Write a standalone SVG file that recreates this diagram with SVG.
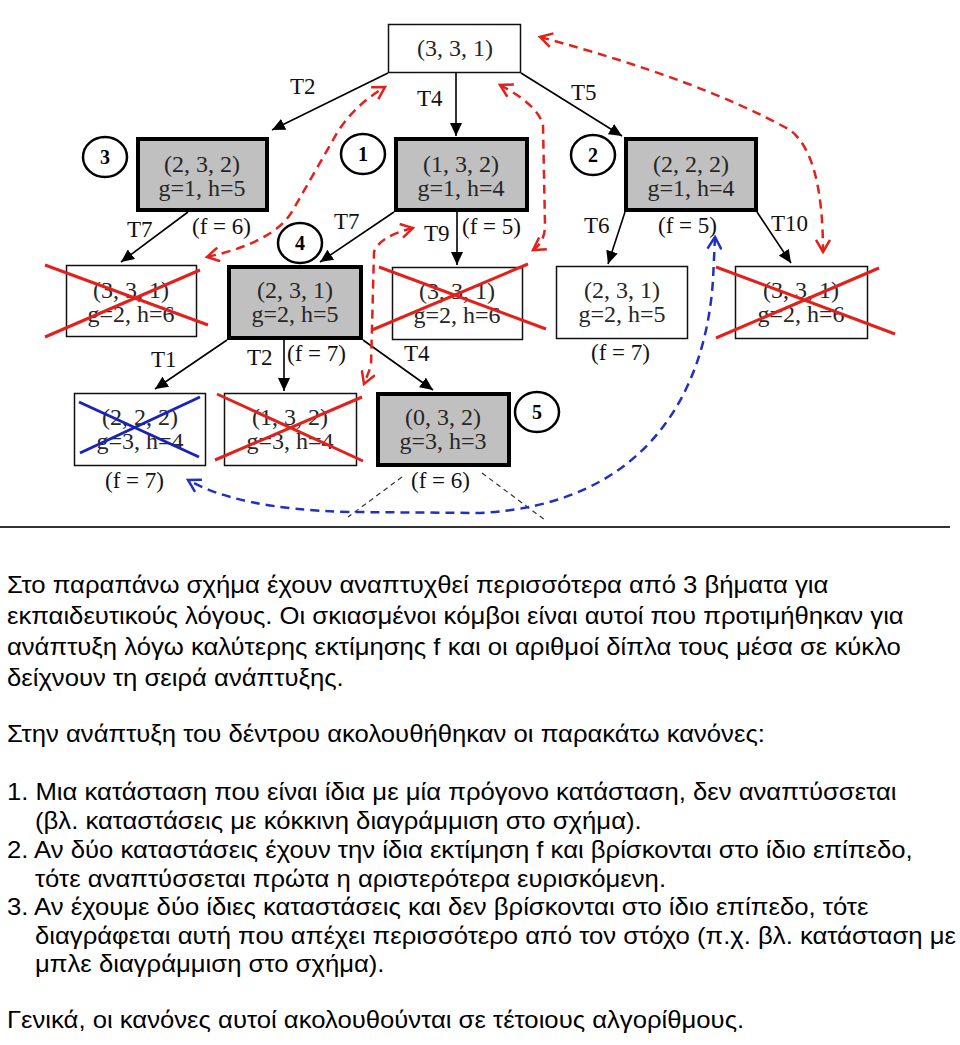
<svg xmlns="http://www.w3.org/2000/svg" width="960" height="1045" viewBox="0 0 960 1045">
<style>
.bg{fill:#ffffff}
.box{fill:#ffffff;stroke:#111;stroke-width:1.5}
.sel{fill:#c0c0c0;stroke:#000;stroke-width:4}
.nt{font-family:"Liberation Serif",serif;font-size:24px;fill:#262626;text-anchor:middle}
.lb{font-family:"Liberation Serif",serif;font-size:23px;fill:#111}
.num{font-family:"Liberation Serif",serif;font-size:20px;font-weight:bold;fill:#000;text-anchor:middle}
.ring{fill:none;stroke:#000;stroke-width:2.5}
.arr{fill:none;stroke:#000;stroke-width:1.6;marker-end:url(#ah)}
.red{fill:none;stroke:#e3211c;stroke-width:2.5;stroke-dasharray:9,6;marker-start:url(#rh);marker-end:url(#rh)}
.blue{fill:none;stroke:#2030c0;stroke-width:2.5;stroke-dasharray:9,6;marker-start:url(#bh);marker-end:url(#bh)}
.thin{fill:none;stroke:#333;stroke-width:1.2;stroke-dasharray:5,4}
.xr{stroke:#e3211c;stroke-width:3}
.xb{stroke:#1a22bb;stroke-width:3}
.tx{font-family:"Liberation Sans",Arial,sans-serif;font-size:24px;fill:#000}
</style>
<defs>
<marker id="ah" markerUnits="userSpaceOnUse" markerWidth="14" markerHeight="12" refX="13" refY="6" orient="auto">
<path d="M0,0 L13,6 L0,12 z" fill="#000"/>
</marker>
<marker id="rh" markerUnits="userSpaceOnUse" markerWidth="16" markerHeight="16" refX="13" refY="8" orient="auto-start-reverse">
<path d="M1,1 L13,8 L1,15" fill="none" stroke="#e3211c" stroke-width="2.5" stroke-dasharray="none"/>
</marker>
<marker id="bh" markerUnits="userSpaceOnUse" markerWidth="16" markerHeight="16" refX="13" refY="8" orient="auto-start-reverse">
<path d="M1,1 L13,8 L1,15" fill="none" stroke="#2030c0" stroke-width="2.5" stroke-dasharray="none"/>
</marker>
</defs>
<rect class="bg" x="0" y="0" width="960" height="1045"/>

<g id="connectors">
<path class="arr" d="M388,73 L272,130"/>
<path class="arr" d="M456,73 L456,136"/>
<path class="arr" d="M521,73 L622,136"/>
<path class="arr" d="M188,212 L121,262"/>
<path class="arr" d="M394,212 L320,262"/>
<path class="arr" d="M457,212 L457,265"/>
<path class="arr" d="M625,212 L608,264"/>
<path class="arr" d="M757,212 L791,263"/>
<path class="arr" d="M227,340 L155,389"/>
<path class="arr" d="M284,340 L284,391"/>
<path class="arr" d="M363,340 L433,390"/>
<path class="thin" d="M402,477 L348,517"/>
<path class="thin" d="M482,473 L545,520"/>
<path class="red" d="M207,257 Q275,242 293,210 L333,140 Q350,108 385,87"/>
<path class="red" d="M500,85 Q538,105 543,125 L545,225 Q545,242 533,250"/>
<path class="red" d="M413,228 Q380,236 374,252 L371,366 L364,384"/>
<path class="red" d="M540,37 Q700,80 790,130 Q823,155 823,252"/>
<path class="blue" d="M715,237 L713,280 C705,400 640,505 480,513 L350,512 C270,510 220,498 188,480"/>
<text class="lb" x="290" y="94">T2</text>
<text class="lb" x="417" y="106">T4</text>
<text class="lb" x="571" y="100">T5</text>
<text class="lb" x="127" y="237">T7</text>
<text class="lb" x="192" y="234">(f = 6)</text>
<text class="lb" x="334" y="229">T7</text>
<text class="lb" x="424" y="241">T9</text>
<text class="lb" x="462" y="234">(f = 5)</text>
<text class="lb" x="584" y="233">T6</text>
<text class="lb" x="658" y="233">(f = 5)</text>
<text class="lb" x="771" y="231">T10</text>
<text class="lb" x="151" y="367">T1</text>
<text class="lb" x="247" y="365">T2</text>
<text class="lb" x="287" y="361">(f = 7)</text>
<text class="lb" x="404" y="361">T4</text>
<text class="lb" x="591" y="360">(f = 7)</text>
<text class="lb" x="105" y="488">(f = 7)</text>
<text class="lb" x="411" y="488">(f = 6)</text>
</g>

<g id="n-root">
<rect class="box" x="388.5" y="24.5" width="132" height="48"/>
<text class="nt" x="455" y="56">(3, 3, 1)</text>
</g>
<g id="n-232">
<rect class="sel" x="138" y="139" width="129" height="71"/>
<text class="nt" x="202" y="172">(2, 3, 2)</text>
<text class="nt" x="202" y="196">g=1, h=5</text>
</g>
<g id="n-132">
<rect class="sel" x="396" y="139" width="131" height="71"/>
<text class="nt" x="461" y="172">(1, 3, 2)</text>
<text class="nt" x="461" y="196">g=1, h=4</text>
</g>
<g id="n-222">
<rect class="sel" x="626" y="139" width="130" height="71"/>
<text class="nt" x="691" y="172">(2, 2, 2)</text>
<text class="nt" x="691" y="196">g=1, h=4</text>
</g>
<g id="n-331a">
<rect class="box" x="66.5" y="265.5" width="130" height="71"/>
<text class="nt" x="131" y="298">(3, 3, 1)</text>
<text class="nt" x="131" y="322">g=2, h=6</text>
<line class="xr" x1="45" y1="265" x2="208" y2="325"/>
<line class="xr" x1="45" y1="337" x2="200" y2="270"/>
</g>
<g id="n-231a">
<rect class="sel" x="229" y="267" width="132" height="71"/>
<text class="nt" x="295" y="298">(2, 3, 1)</text>
<text class="nt" x="295" y="322">g=2, h=5</text>
</g>
<g id="n-331b">
<rect class="box" x="392.5" y="267.5" width="130" height="72"/>
<text class="nt" x="457" y="299">(3, 3, 1)</text>
<text class="nt" x="457" y="323">g=2, h=6</text>
<line class="xr" x1="379" y1="267" x2="546" y2="329"/>
<line class="xr" x1="372" y1="330" x2="528" y2="264"/>
</g>
<g id="n-231b">
<rect class="box" x="556.5" y="266.5" width="131" height="72"/>
<text class="nt" x="622" y="298">(2, 3, 1)</text>
<text class="nt" x="622" y="322">g=2, h=5</text>
</g>
<g id="n-331c">
<rect class="box" x="735.5" y="266.5" width="132" height="72"/>
<text class="nt" x="801" y="298">(3, 3, 1)</text>
<text class="nt" x="801" y="322">g=2, h=6</text>
<line class="xr" x1="716" y1="267" x2="895" y2="334"/>
<line class="xr" x1="716" y1="338" x2="879" y2="268"/>
</g>
<g id="n-222b">
<rect class="box" x="74.5" y="393.5" width="131" height="72"/>
<text class="nt" x="140" y="425">(2, 2, 2)</text>
<text class="nt" x="140" y="449">g=3, h=4</text>
<line class="xb" x1="79" y1="402" x2="199" y2="457"/>
<line class="xb" x1="80" y1="453" x2="200" y2="397"/>
</g>
<g id="n-132b">
<rect class="box" x="224.5" y="393.5" width="132" height="72"/>
<text class="nt" x="290" y="425">(1, 3, 2)</text>
<text class="nt" x="290" y="449">g=3, h=4</text>
<line class="xr" x1="217" y1="394" x2="363" y2="461"/>
<line class="xr" x1="215" y1="460" x2="362" y2="397"/>
</g>
<g id="n-032">
<rect class="sel" x="378" y="394" width="131" height="71"/>
<text class="nt" x="443" y="425">(0, 3, 2)</text>
<text class="nt" x="443" y="449">g=3, h=3</text>
</g>

<g id="c3"><ellipse class="ring" cx="105" cy="157" rx="22" ry="20"/><text class="num" x="105" y="164">3</text></g>
<g id="c1"><ellipse class="ring" cx="363" cy="154" rx="22" ry="20"/><text class="num" x="363" y="161">1</text></g>
<g id="c2"><ellipse class="ring" cx="593" cy="155" rx="22" ry="20"/><text class="num" x="593" y="162">2</text></g>
<g id="c4"><ellipse class="ring" cx="300" cy="243" rx="22" ry="20"/><text class="num" x="300" y="250">4</text></g>
<g id="c5"><ellipse class="ring" cx="537" cy="412" rx="22" ry="20"/><text class="num" x="537" y="419">5</text></g>

<line x1="0" y1="527" x2="950" y2="527" stroke="#333" stroke-width="2"/>

<g id="caption" transform="scale(1.07,1)">
<text class="tx" x="6.5" y="593">Στο παραπάνω σχήμα έχουν αναπτυχθεί περισσότερα από 3 βήματα για</text>
<text class="tx" x="6.5" y="624">εκπαιδευτικούς λόγους. Οι σκιασμένοι κόμβοι είναι αυτοί που προτιμήθηκαν για</text>
<text class="tx" x="6.5" y="655">ανάπτυξη λόγω καλύτερης εκτίμησης f και οι αριθμοί δίπλα τους μέσα σε κύκλο</text>
<text class="tx" x="6.5" y="686">δείχνουν τη σειρά ανάπτυξης.</text>
<text class="tx" x="6.5" y="742">Στην ανάπτυξη του δέντρου ακολουθήθηκαν οι παρακάτω κανόνες:</text>
<text class="tx" x="6.5" y="800">1. Μια κατάσταση που είναι ίδια με μία πρόγονο κατάσταση, δεν αναπτύσσεται</text>
<text class="tx" x="32.7" y="829">(βλ. καταστάσεις με κόκκινη διαγράμμιση στο σχήμα).</text>
<text class="tx" x="6.5" y="858">2. Αν δύο καταστάσεις έχουν την ίδια εκτίμηση f και βρίσκονται στο ίδιο επίπεδο,</text>
<text class="tx" x="32.7" y="887">τότε αναπτύσσεται πρώτα η αριστερότερα ευρισκόμενη.</text>
<text class="tx" x="6.5" y="915">3. Αν έχουμε δύο ίδιες καταστάσεις και δεν βρίσκονται στο ίδιο επίπεδο, τότε</text>
<text class="tx" x="32.7" y="944">διαγράφεται αυτή που απέχει περισσότερο από τον στόχο (π.χ. βλ. κατάσταση με</text>
<text class="tx" x="32.7" y="972">μπλε διαγράμμιση στο σχήμα).</text>
<text class="tx" x="6.5" y="1028">Γενικά, οι κανόνες αυτοί ακολουθούνται σε τέτοιους αλγορίθμους.</text>
</g>
</svg>
